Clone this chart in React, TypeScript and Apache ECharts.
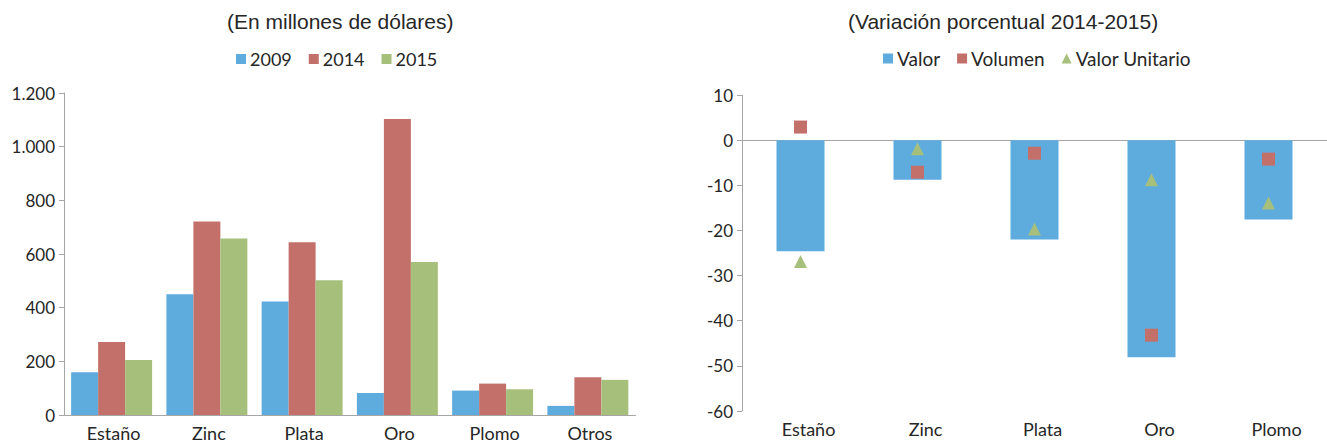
import React, { useEffect, useRef } from "react";
import * as echarts from "echarts";

const leftCategories = ["Estaño", "Zinc", "Plata", "Oro", "Plomo", "Otros"];
const years = ["2009", "2014", "2015"];
const values2009 = [159, 450, 423, 82, 91, 34];
const values2014 = [272, 721, 644, 1103, 117, 141];
const values2015 = [205, 658, 502, 570, 96, 131];

const rightCategories = ["Estaño", "Zinc", "Plata", "Oro", "Plomo"];
const valor = [-24.6, -8.8, -22.0, -48.1, -17.6];
const volumen = [2.9, -7.1, -2.9, -43.2, -4.2];
const valorUnitario = [-26.9, -1.9, -19.7, -8.8, -13.9];

const leftTicks = [0, 200, 400, 600, 800, 1000, 1200];

const BLUE = "#5EABDE";
const RED = "#C3706A";
const GREEN = "#A6C07C";
const AXIS = "#A6A6A6";
const TEXT = "#262626";
const FONT = "Lato";

export default function App() {
  const ref = useRef<HTMLDivElement>(null);
  useEffect(() => {
    if (!ref.current) return;
    const chart = echarts.init(ref.current, null, { renderer: "svg" });
    const catLabel = { color: TEXT, fontFamily: FONT, fontSize: 18 };
    const valLabel = { color: TEXT, fontFamily: FONT, fontSize: 17 };
    const titleStyle = { fontFamily: "Liberation Sans", fontSize: 21, fontWeight: "normal", color: TEXT };
    chart.setOption({
      animation: false,
      backgroundColor: "#fff",
      title: [
        { text: "(En millones de dólares)", left: 222, top: 6, textStyle: titleStyle },
        { text: "(Variación porcentual 2014-2015)", left: 843, top: 6, textStyle: titleStyle },
      ],
      legend: [
        {
          left: 231,
          top: 45,
          icon: "rect",
          itemWidth: 10,
          itemHeight: 10,
          itemGap: 17,
          textStyle: { fontFamily: FONT, fontSize: 18, color: TEXT, padding: [0, 0, 0, -1] },
          data: years,
        },
        {
          left: 878,
          top: 44,
          itemWidth: 10,
          itemHeight: 10,
          itemGap: 17,
          textStyle: { fontFamily: FONT, fontSize: 19, color: TEXT, padding: [0, 0, 0, -1] },
          data: [
            { name: "Valor", icon: "rect" },
            { name: "Volumen", icon: "rect" },
            { name: "Valor Unitario", icon: "triangle" },
          ],
        },
      ],
      grid: [
        { left: 64, top: 93, width: 571.5, height: 322 },
        { left: 742, top: 95, width: 597, height: 316 },
      ],
      xAxis: [
        {
          type: "category",
          gridIndex: 0,
          data: leftCategories,
          axisLine: { lineStyle: { color: AXIS } },
          axisTick: { lineStyle: { color: AXIS }, length: 5 },
          axisLabel: { ...catLabel, margin: 9, padding: [0, 0, 0, 4] },
        },
        {
          type: "category",
          gridIndex: 1,
          data: rightCategories,
          axisLine: { onZero: true, lineStyle: { color: AXIS } },
          axisTick: { lineStyle: { color: AXIS }, length: 5 },
          axisLabel: { ...catLabel, margin: 9, padding: [0, 0, 0, 16] },
        },
      ],
      yAxis: [
        {
          type: "value",
          gridIndex: 0,
          min: leftTicks[0],
          max: leftTicks[leftTicks.length - 1],
          interval: 200,
          splitLine: { show: false },
          axisLine: { show: true, lineStyle: { color: AXIS } },
          axisTick: { show: true, lineStyle: { color: AXIS }, length: 5 },
          axisLabel: {
            ...valLabel,
            margin: 9,
            formatter: (v: number) => v.toString().replace(/\B(?=(\d{3})+(?!\d))/g, "."),
          },
        },
        {
          type: "value",
          gridIndex: 1,
          min: -60,
          max: 10,
          interval: 10,
          splitLine: { show: false },
          axisLine: { show: true, lineStyle: { color: AXIS } },
          axisTick: { show: true, lineStyle: { color: AXIS }, length: 5 },
          axisLabel: { ...valLabel, margin: 9 },
        },
      ],
      series: [
        {
          name: "2009",
          type: "bar",
          xAxisIndex: 0,
          yAxisIndex: 0,
          data: values2009,
          itemStyle: { color: BLUE },
          barGap: "0%",
          barCategoryGap: "15%",
        },
        {
          name: "2014",
          type: "bar",
          xAxisIndex: 0,
          yAxisIndex: 0,
          data: values2014,
          itemStyle: { color: RED },
          barGap: "0%",
          barCategoryGap: "15%",
        },
        {
          name: "2015",
          type: "bar",
          xAxisIndex: 0,
          yAxisIndex: 0,
          data: values2015,
          itemStyle: { color: GREEN },
          barGap: "0%",
          barCategoryGap: "15%",
        },
        {
          name: "Valor",
          type: "bar",
          xAxisIndex: 1,
          yAxisIndex: 1,
          data: valor,
          barWidth: 48,
          itemStyle: { color: BLUE },
        },
        {
          name: "Volumen",
          type: "scatter",
          xAxisIndex: 1,
          yAxisIndex: 1,
          data: volumen,
          symbol: "rect",
          symbolSize: 13,
          itemStyle: { color: RED, opacity: 1 },
        },
        {
          name: "Valor Unitario",
          type: "scatter",
          xAxisIndex: 1,
          yAxisIndex: 1,
          data: valorUnitario,
          symbol: "triangle",
          symbolSize: 13,
          itemStyle: { color: GREEN, opacity: 1 },
        },
      ],
    });
    return () => chart.dispose();
  }, []);
  return (
    <div style={{ position: "absolute", left: 0, top: 0, width: 1327, height: 443, overflow: "hidden" }}>
      <div ref={ref} style={{ width: 1327, height: 443 }} />
    </div>
  );
}
